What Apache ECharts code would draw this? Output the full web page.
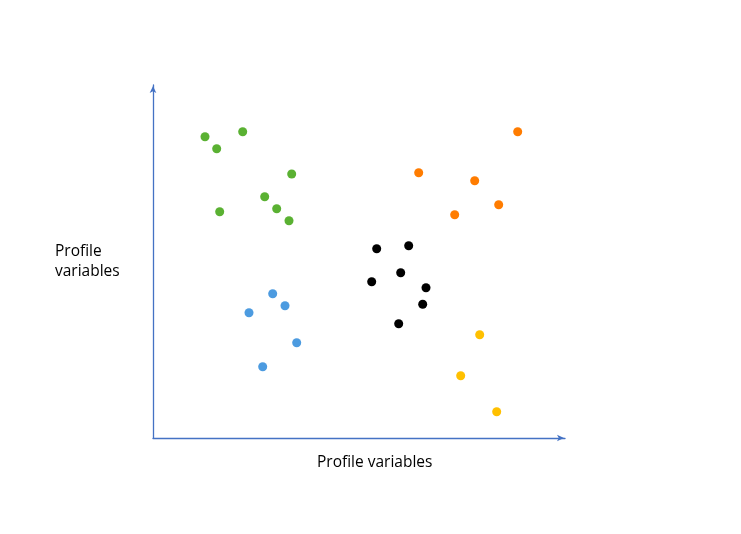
<!DOCTYPE html>
<html>
<head>
<meta charset="utf-8">
<script src="https://cdn.jsdelivr.net/npm/echarts@6/dist/echarts.min.js"></script>
<style>html,body{margin:0;padding:0;background:#fff;}#c{width:741px;height:534px;}</style>
</head>
<body>
<div id="c"></div>
<script>
var xName = 'Profile variables';
var yName = 'Profile\nvariables';

var greenPts = [[52,301.3],[89.7,306.3],[63.7,289.3],[138.7,264],[111.7,241.3],[123.7,229.3],[66.7,226.3],[136,217.3]];
var orangePts = [[364.7,306.3],[265.7,265.3],[321.7,257.3],[345.7,233.3],[301.7,223.3]];
var blackPts = [[223.7,189.3],[255.7,192.3],[247.7,165.3],[218.7,156.3],[273,150.3],[269.7,133.7],[245.7,114.3]];
var bluePts = [[119.7,144.3],[132,132.3],[96,125.3],[143.7,95.3],[109.7,71.3]];
var yellowPts = [[326.7,103.3],[307.7,62.3],[343.7,26.3]];

var chart = echarts.init(document.getElementById('c'));
var axisCommon = {
  type: 'value',
  min: 0,
  axisLine: {show: true, lineStyle: {color: '#4472C4', width: 1.3}, symbol: ['none', 'arrow'], symbolSize: [5, 7], symbolOffset: [0, -1]},
  axisTick: {show: false},
  axisLabel: {show: false},
  splitLine: {show: false}
};
function s(data, color) {
  return {type: 'scatter', data: data, symbolSize: 9, itemStyle: {color: color, opacity: 1}, silent: true};
}
chart.setOption({
  animation: false,
  backgroundColor: '#fff',
  grid: {left: 153, right: 176, top: 85, bottom: 96},
  xAxis: Object.assign({}, axisCommon, {max: 412}),
  yAxis: Object.assign({}, axisCommon, {max: 353}),
  graphic: [
    {type: 'text', left: 317, top: 455, style: {text: xName, font: '15.5px "Open Sans", sans-serif', fill: '#000'}},
    {type: 'text', left: 55, top: 242, style: {text: yName, font: '15.5px "Open Sans", sans-serif', fill: '#000', lineHeight: 20}}
  ],
  series: [
    s(greenPts, '#5AB132'),
    s(orangePts, '#FF7C00'),
    s(blackPts, '#000000'),
    s(bluePts, '#4C9BE0'),
    s(yellowPts, '#FFC000')
  ]
});
</script>
</body>
</html>
